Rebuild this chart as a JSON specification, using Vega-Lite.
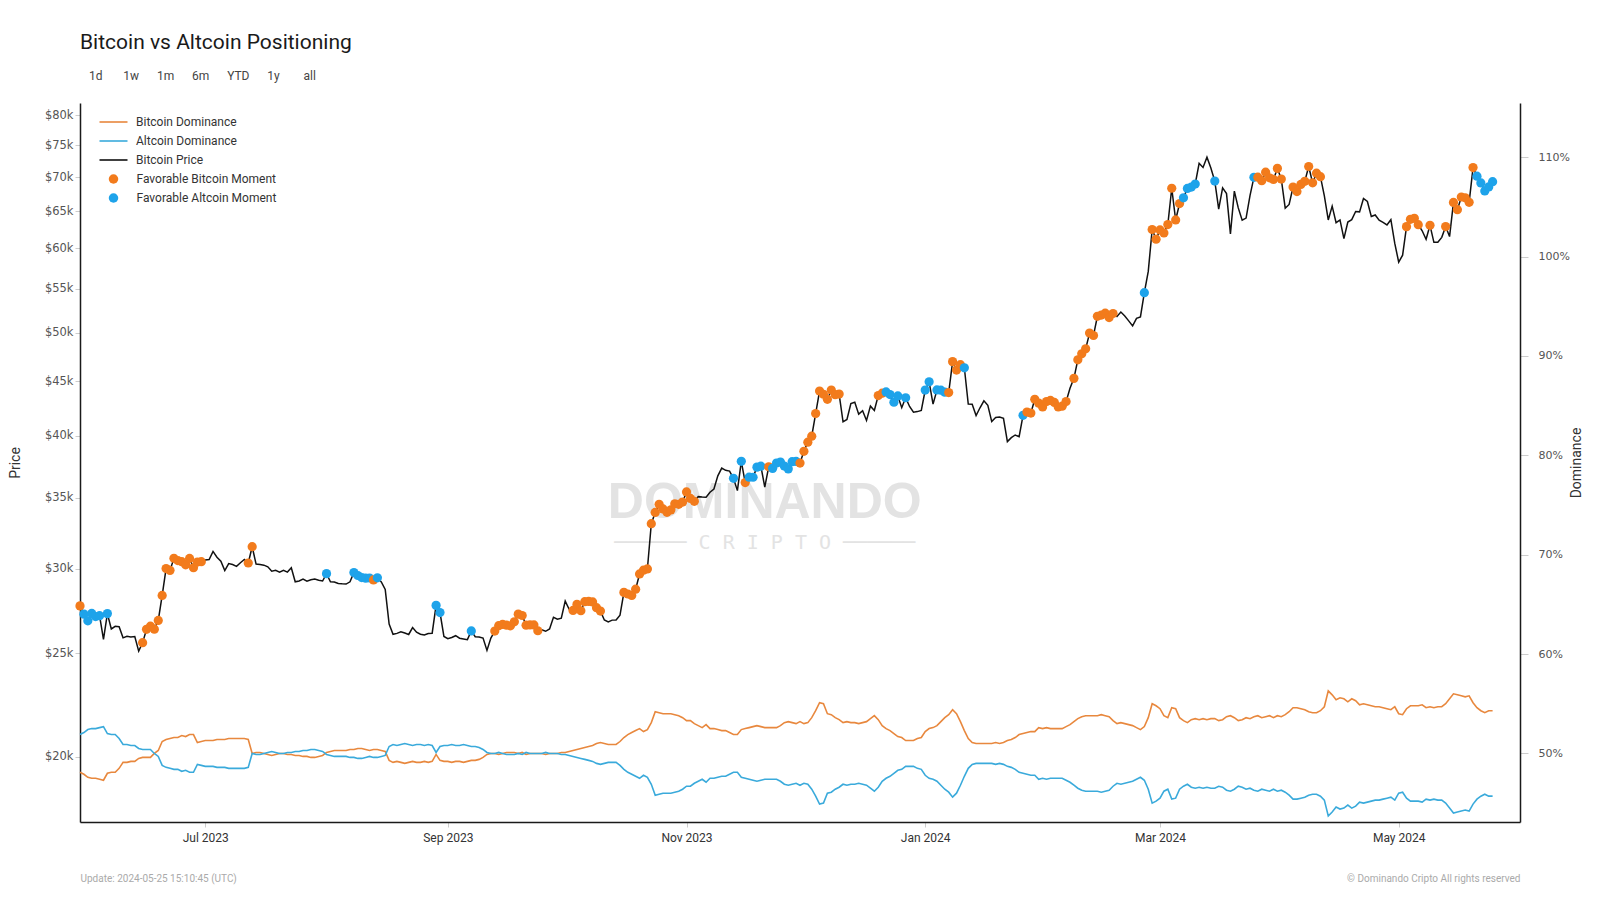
{
"$schema": "https://vega.github.io/schema/vega-lite/v6.json",
"width": 1600, "height": 900,
"autosize": {"type": "fit", "contains": "padding"},
"padding": {"left": 8, "right": 16, "top": 32, "bottom": 17},
"background": "#ffffff",
"config": {"view": {"stroke": null}, "font": "Roboto"},
"title": {"text": "Bitcoin vs Altcoin Positioning", "subtitle": "\u200b\u00a0\u00a0\u00a01d\u00a0\u00a0\u00a0\u00a0\u00a0\u00a0\u00a01w\u00a0\u00a0\u00a0\u00a0\u00a0\u00a01m\u00a0\u00a0\u00a0\u00a0\u00a0\u00a06m\u00a0\u00a0\u00a0\u00a0\u00a0\u00a0YTD\u00a0\u00a0\u00a0\u00a0\u00a0\u00a01y\u00a0\u00a0\u00a0\u00a0\u00a0\u00a0\u00a0\u00a0all", "anchor": "start", "frame": "group", "font": "Roboto", "fontSize": 21, "fontWeight": "normal", "color": "#1a1a1a", "subtitleFont": "Roboto", "subtitleFontSize": 12, "subtitleColor": "#444", "subtitlePadding": 18, "offset": 21},
"data": {"values": [
{"date":"2023-05-30","price":27700,"btc":48.1,"alt":51.9,"moment":"Favorable Bitcoin Moment"},
{"date":"2023-05-31","price":27210,"btc":47.9,"alt":52.1,"moment":"Favorable Altcoin Moment"},
{"date":"2023-06-01","price":26820,"btc":47.6,"alt":52.4,"moment":"Favorable Altcoin Moment"},
{"date":"2023-06-02","price":27250,"btc":47.5,"alt":52.5,"moment":"Favorable Altcoin Moment"},
{"date":"2023-06-03","price":27070,"btc":47.5,"alt":52.5,"moment":"Favorable Altcoin Moment"},
{"date":"2023-06-04","price":27120,"btc":47.4,"alt":52.6,"moment":"Favorable Altcoin Moment"},
{"date":"2023-06-05","price":25760,"btc":47.3,"alt":52.7},
{"date":"2023-06-06","price":27240,"btc":48.0,"alt":52.0,"moment":"Favorable Altcoin Moment"},
{"date":"2023-06-07","price":26350,"btc":48.1,"alt":51.9},
{"date":"2023-06-08","price":26500,"btc":48.1,"alt":51.9},
{"date":"2023-06-09","price":26480,"btc":48.5,"alt":51.5},
{"date":"2023-06-10","price":25850,"btc":49.1,"alt":50.9},
{"date":"2023-06-11","price":25940,"btc":49.1,"alt":50.9},
{"date":"2023-06-12","price":25900,"btc":49.2,"alt":50.8},
{"date":"2023-06-13","price":25920,"btc":49.2,"alt":50.8},
{"date":"2023-06-14","price":25120,"btc":49.5,"alt":50.5},
{"date":"2023-06-15","price":25580,"btc":49.6,"alt":50.4,"moment":"Favorable Bitcoin Moment"},
{"date":"2023-06-16","price":26330,"btc":49.6,"alt":50.4,"moment":"Favorable Bitcoin Moment"},
{"date":"2023-06-17","price":26510,"btc":49.6,"alt":50.4,"moment":"Favorable Bitcoin Moment"},
{"date":"2023-06-18","price":26340,"btc":50.0,"alt":50.0,"moment":"Favorable Bitcoin Moment"},
{"date":"2023-06-19","price":26840,"btc":50.3,"alt":49.7,"moment":"Favorable Bitcoin Moment"},
{"date":"2023-06-20","price":28330,"btc":51.2,"alt":48.8,"moment":"Favorable Bitcoin Moment"},
{"date":"2023-06-21","price":30030,"btc":51.4,"alt":48.6,"moment":"Favorable Bitcoin Moment"},
{"date":"2023-06-22","price":29910,"btc":51.5,"alt":48.5,"moment":"Favorable Bitcoin Moment"},
{"date":"2023-06-23","price":30700,"btc":51.6,"alt":48.4,"moment":"Favorable Bitcoin Moment"},
{"date":"2023-06-24","price":30550,"btc":51.6,"alt":48.4,"moment":"Favorable Bitcoin Moment"},
{"date":"2023-06-25","price":30480,"btc":51.8,"alt":48.2,"moment":"Favorable Bitcoin Moment"},
{"date":"2023-06-26","price":30270,"btc":51.7,"alt":48.3,"moment":"Favorable Bitcoin Moment"},
{"date":"2023-06-27","price":30690,"btc":51.9,"alt":48.1,"moment":"Favorable Bitcoin Moment"},
{"date":"2023-06-28","price":30080,"btc":51.9,"alt":48.1,"moment":"Favorable Bitcoin Moment"},
{"date":"2023-06-29","price":30450,"btc":51.1,"alt":48.9,"moment":"Favorable Bitcoin Moment"},
{"date":"2023-06-30","price":30480,"btc":51.2,"alt":48.8,"moment":"Favorable Bitcoin Moment"},
{"date":"2023-07-01","price":30590,"btc":51.3,"alt":48.7},
{"date":"2023-07-02","price":30620,"btc":51.3,"alt":48.7},
{"date":"2023-07-03","price":31160,"btc":51.3,"alt":48.7},
{"date":"2023-07-04","price":30770,"btc":51.4,"alt":48.6},
{"date":"2023-07-05","price":30510,"btc":51.4,"alt":48.6},
{"date":"2023-07-06","price":29900,"btc":51.4,"alt":48.6},
{"date":"2023-07-07","price":30350,"btc":51.5,"alt":48.5},
{"date":"2023-07-08","price":30290,"btc":51.5,"alt":48.5},
{"date":"2023-07-09","price":30170,"btc":51.5,"alt":48.5},
{"date":"2023-07-10","price":30410,"btc":51.5,"alt":48.5},
{"date":"2023-07-11","price":30620,"btc":51.5,"alt":48.5},
{"date":"2023-07-12","price":30390,"btc":51.4,"alt":48.6,"moment":"Favorable Bitcoin Moment"},
{"date":"2023-07-13","price":31480,"btc":50.0,"alt":50.0,"moment":"Favorable Bitcoin Moment"},
{"date":"2023-07-14","price":30320,"btc":50.1,"alt":49.9},
{"date":"2023-07-15","price":30290,"btc":50.1,"alt":49.9},
{"date":"2023-07-16","price":30250,"btc":50.0,"alt":50.0},
{"date":"2023-07-17","price":30140,"btc":49.9,"alt":50.1},
{"date":"2023-07-18","price":29860,"btc":49.8,"alt":50.2},
{"date":"2023-07-19","price":29910,"btc":49.9,"alt":50.1},
{"date":"2023-07-20","price":29800,"btc":50.0,"alt":50.0},
{"date":"2023-07-21","price":29910,"btc":50.0,"alt":50.0},
{"date":"2023-07-22","price":29800,"btc":49.9,"alt":50.1},
{"date":"2023-07-23","price":30080,"btc":49.9,"alt":50.1},
{"date":"2023-07-24","price":29180,"btc":49.8,"alt":50.2},
{"date":"2023-07-25","price":29230,"btc":49.8,"alt":50.2},
{"date":"2023-07-26","price":29350,"btc":49.7,"alt":50.3},
{"date":"2023-07-27","price":29220,"btc":49.7,"alt":50.3},
{"date":"2023-07-28","price":29310,"btc":49.6,"alt":50.4},
{"date":"2023-07-29","price":29350,"btc":49.6,"alt":50.4},
{"date":"2023-07-30","price":29280,"btc":49.7,"alt":50.3},
{"date":"2023-07-31","price":29230,"btc":49.8,"alt":50.2},
{"date":"2023-08-01","price":29700,"btc":50.1,"alt":49.9,"moment":"Favorable Altcoin Moment"},
{"date":"2023-08-02","price":29180,"btc":50.2,"alt":49.8},
{"date":"2023-08-03","price":29170,"btc":50.3,"alt":49.7},
{"date":"2023-08-04","price":29070,"btc":50.3,"alt":49.7},
{"date":"2023-08-05","price":29050,"btc":50.3,"alt":49.7},
{"date":"2023-08-06","price":29040,"btc":50.3,"alt":49.7},
{"date":"2023-08-07","price":29180,"btc":50.4,"alt":49.6},
{"date":"2023-08-08","price":29770,"btc":50.4,"alt":49.6,"moment":"Favorable Altcoin Moment"},
{"date":"2023-08-09","price":29580,"btc":50.5,"alt":49.5,"moment":"Favorable Altcoin Moment"},
{"date":"2023-08-10","price":29450,"btc":50.5,"alt":49.5,"moment":"Favorable Altcoin Moment"},
{"date":"2023-08-11","price":29410,"btc":50.4,"alt":49.6,"moment":"Favorable Altcoin Moment"},
{"date":"2023-08-12","price":29420,"btc":50.3,"alt":49.7,"moment":"Favorable Altcoin Moment"},
{"date":"2023-08-13","price":29300,"btc":50.4,"alt":49.6,"moment":"Favorable Bitcoin Moment"},
{"date":"2023-08-14","price":29430,"btc":50.4,"alt":49.6,"moment":"Favorable Altcoin Moment"},
{"date":"2023-08-15","price":29170,"btc":50.3,"alt":49.7},
{"date":"2023-08-16","price":28700,"btc":50.2,"alt":49.8},
{"date":"2023-08-17","price":26630,"btc":49.3,"alt":50.7},
{"date":"2023-08-18","price":26050,"btc":49.1,"alt":50.9},
{"date":"2023-08-19","price":26100,"btc":49.2,"alt":50.8},
{"date":"2023-08-20","price":26190,"btc":49.1,"alt":50.9},
{"date":"2023-08-21","price":26120,"btc":49.0,"alt":51.0},
{"date":"2023-08-22","price":26040,"btc":49.1,"alt":50.9},
{"date":"2023-08-23","price":26430,"btc":49.2,"alt":50.8},
{"date":"2023-08-24","price":26170,"btc":49.1,"alt":50.9},
{"date":"2023-08-25","price":26050,"btc":49.1,"alt":50.9},
{"date":"2023-08-26","price":26010,"btc":49.2,"alt":50.8},
{"date":"2023-08-27","price":26090,"btc":49.1,"alt":50.9},
{"date":"2023-08-28","price":26110,"btc":49.2,"alt":50.8},
{"date":"2023-08-29","price":27730,"btc":49.9,"alt":50.1,"moment":"Favorable Altcoin Moment"},
{"date":"2023-08-30","price":27300,"btc":49.3,"alt":50.7,"moment":"Favorable Altcoin Moment"},
{"date":"2023-08-31","price":25930,"btc":49.2,"alt":50.8},
{"date":"2023-09-01","price":25800,"btc":49.2,"alt":50.8},
{"date":"2023-09-02","price":25870,"btc":49.1,"alt":50.9},
{"date":"2023-09-03","price":25970,"btc":49.2,"alt":50.8},
{"date":"2023-09-04","price":25830,"btc":49.2,"alt":50.8},
{"date":"2023-09-05","price":25790,"btc":49.1,"alt":50.9},
{"date":"2023-09-06","price":25750,"btc":49.2,"alt":50.8},
{"date":"2023-09-07","price":26240,"btc":49.3,"alt":50.7,"moment":"Favorable Altcoin Moment"},
{"date":"2023-09-08","price":25910,"btc":49.3,"alt":50.7},
{"date":"2023-09-09","price":25900,"btc":49.4,"alt":50.6},
{"date":"2023-09-10","price":25840,"btc":49.6,"alt":50.4},
{"date":"2023-09-11","price":25160,"btc":49.9,"alt":50.1},
{"date":"2023-09-12","price":25840,"btc":50.0,"alt":50.0},
{"date":"2023-09-13","price":26230,"btc":50.0,"alt":50.0,"moment":"Favorable Bitcoin Moment"},
{"date":"2023-09-14","price":26540,"btc":49.9,"alt":50.1,"moment":"Favorable Bitcoin Moment"},
{"date":"2023-09-15","price":26610,"btc":50.0,"alt":50.0,"moment":"Favorable Bitcoin Moment"},
{"date":"2023-09-16","price":26570,"btc":50.1,"alt":49.9,"moment":"Favorable Bitcoin Moment"},
{"date":"2023-09-17","price":26530,"btc":50.1,"alt":49.9,"moment":"Favorable Bitcoin Moment"},
{"date":"2023-09-18","price":26760,"btc":50.1,"alt":49.9,"moment":"Favorable Bitcoin Moment"},
{"date":"2023-09-19","price":27210,"btc":50.0,"alt":50.0,"moment":"Favorable Bitcoin Moment"},
{"date":"2023-09-20","price":27130,"btc":50.1,"alt":49.9,"moment":"Favorable Bitcoin Moment"},
{"date":"2023-09-21","price":26570,"btc":49.9,"alt":50.1,"moment":"Favorable Bitcoin Moment"},
{"date":"2023-09-22","price":26580,"btc":50.0,"alt":50.0,"moment":"Favorable Bitcoin Moment"},
{"date":"2023-09-23","price":26580,"btc":50.0,"alt":50.0,"moment":"Favorable Bitcoin Moment"},
{"date":"2023-09-24","price":26250,"btc":50.0,"alt":50.0,"moment":"Favorable Bitcoin Moment"},
{"date":"2023-09-25","price":26300,"btc":50.0,"alt":50.0},
{"date":"2023-09-26","price":26220,"btc":49.9,"alt":50.1},
{"date":"2023-09-27","price":26350,"btc":50.0,"alt":50.0},
{"date":"2023-09-28","price":27020,"btc":50.0,"alt":50.0},
{"date":"2023-09-29","price":26910,"btc":50.0,"alt":50.0},
{"date":"2023-09-30","price":26970,"btc":50.1,"alt":49.9},
{"date":"2023-10-01","price":27990,"btc":50.1,"alt":49.9},
{"date":"2023-10-02","price":27500,"btc":50.2,"alt":49.8},
{"date":"2023-10-03","price":27430,"btc":50.3,"alt":49.7,"moment":"Favorable Bitcoin Moment"},
{"date":"2023-10-04","price":27790,"btc":50.4,"alt":49.6,"moment":"Favorable Bitcoin Moment"},
{"date":"2023-10-05","price":27410,"btc":50.5,"alt":49.5,"moment":"Favorable Bitcoin Moment"},
{"date":"2023-10-06","price":27950,"btc":50.6,"alt":49.4,"moment":"Favorable Bitcoin Moment"},
{"date":"2023-10-07","price":27970,"btc":50.7,"alt":49.3,"moment":"Favorable Bitcoin Moment"},
{"date":"2023-10-08","price":27940,"btc":50.8,"alt":49.2,"moment":"Favorable Bitcoin Moment"},
{"date":"2023-10-09","price":27590,"btc":51.0,"alt":49.0,"moment":"Favorable Bitcoin Moment"},
{"date":"2023-10-10","price":27390,"btc":51.1,"alt":48.9,"moment":"Favorable Bitcoin Moment"},
{"date":"2023-10-11","price":26870,"btc":51.0,"alt":49.0},
{"date":"2023-10-12","price":26760,"btc":50.9,"alt":49.1},
{"date":"2023-10-13","price":26860,"btc":50.9,"alt":49.1},
{"date":"2023-10-14","price":26870,"btc":50.9,"alt":49.1},
{"date":"2023-10-15","price":27150,"btc":51.2,"alt":48.8},
{"date":"2023-10-16","price":28520,"btc":51.6,"alt":48.4,"moment":"Favorable Bitcoin Moment"},
{"date":"2023-10-17","price":28420,"btc":51.9,"alt":48.1,"moment":"Favorable Bitcoin Moment"},
{"date":"2023-10-18","price":28330,"btc":52.1,"alt":47.9,"moment":"Favorable Bitcoin Moment"},
{"date":"2023-10-19","price":28720,"btc":52.3,"alt":47.7,"moment":"Favorable Bitcoin Moment"},
{"date":"2023-10-20","price":29680,"btc":52.5,"alt":47.5,"moment":"Favorable Bitcoin Moment"},
{"date":"2023-10-21","price":29920,"btc":52.2,"alt":47.8,"moment":"Favorable Bitcoin Moment"},
{"date":"2023-10-22","price":30000,"btc":52.4,"alt":47.6,"moment":"Favorable Bitcoin Moment"},
{"date":"2023-10-23","price":33090,"btc":53.1,"alt":46.9,"moment":"Favorable Bitcoin Moment"},
{"date":"2023-10-24","price":33900,"btc":54.2,"alt":45.8,"moment":"Favorable Bitcoin Moment"},
{"date":"2023-10-25","price":34500,"btc":54.1,"alt":45.9,"moment":"Favorable Bitcoin Moment"},
{"date":"2023-10-26","price":34160,"btc":54.0,"alt":46.0,"moment":"Favorable Bitcoin Moment"},
{"date":"2023-10-27","price":33910,"btc":54.0,"alt":46.0,"moment":"Favorable Bitcoin Moment"},
{"date":"2023-10-28","price":34090,"btc":54.0,"alt":46.0,"moment":"Favorable Bitcoin Moment"},
{"date":"2023-10-29","price":34540,"btc":53.9,"alt":46.1,"moment":"Favorable Bitcoin Moment"},
{"date":"2023-10-30","price":34500,"btc":53.8,"alt":46.2,"moment":"Favorable Bitcoin Moment"},
{"date":"2023-10-31","price":34670,"btc":53.6,"alt":46.4,"moment":"Favorable Bitcoin Moment"},
{"date":"2023-11-01","price":35440,"btc":53.3,"alt":46.7,"moment":"Favorable Bitcoin Moment"},
{"date":"2023-11-02","price":34940,"btc":53.3,"alt":46.7,"moment":"Favorable Bitcoin Moment"},
{"date":"2023-11-03","price":34730,"btc":53.0,"alt":47.0,"moment":"Favorable Bitcoin Moment"},
{"date":"2023-11-04","price":35080,"btc":52.8,"alt":47.2},
{"date":"2023-11-05","price":35050,"btc":52.6,"alt":47.4},
{"date":"2023-11-06","price":35040,"btc":52.9,"alt":47.1},
{"date":"2023-11-07","price":35420,"btc":52.5,"alt":47.5},
{"date":"2023-11-08","price":35660,"btc":52.5,"alt":47.5},
{"date":"2023-11-09","price":36690,"btc":52.4,"alt":47.6},
{"date":"2023-11-10","price":37310,"btc":52.3,"alt":47.7},
{"date":"2023-11-11","price":37130,"btc":52.3,"alt":47.7},
{"date":"2023-11-12","price":37070,"btc":52.1,"alt":47.9},
{"date":"2023-11-13","price":36500,"btc":51.9,"alt":48.1,"moment":"Favorable Altcoin Moment"},
{"date":"2023-11-14","price":35540,"btc":51.9,"alt":48.1},
{"date":"2023-11-15","price":37860,"btc":52.4,"alt":47.6,"moment":"Favorable Altcoin Moment"},
{"date":"2023-11-16","price":36160,"btc":52.5,"alt":47.5,"moment":"Favorable Bitcoin Moment"},
{"date":"2023-11-17","price":36590,"btc":52.6,"alt":47.4,"moment":"Favorable Altcoin Moment"},
{"date":"2023-11-18","price":36580,"btc":52.7,"alt":47.3,"moment":"Favorable Altcoin Moment"},
{"date":"2023-11-19","price":37390,"btc":52.8,"alt":47.2,"moment":"Favorable Altcoin Moment"},
{"date":"2023-11-20","price":37470,"btc":52.7,"alt":47.3,"moment":"Favorable Altcoin Moment"},
{"date":"2023-11-21","price":35810,"btc":52.6,"alt":47.4},
{"date":"2023-11-22","price":37420,"btc":52.6,"alt":47.4,"moment":"Favorable Bitcoin Moment"},
{"date":"2023-11-23","price":37290,"btc":52.6,"alt":47.4,"moment":"Favorable Altcoin Moment"},
{"date":"2023-11-24","price":37720,"btc":52.6,"alt":47.4,"moment":"Favorable Altcoin Moment"},
{"date":"2023-11-25","price":37800,"btc":52.8,"alt":47.2,"moment":"Favorable Altcoin Moment"},
{"date":"2023-11-26","price":37480,"btc":53.1,"alt":46.9,"moment":"Favorable Altcoin Moment"},
{"date":"2023-11-27","price":37250,"btc":53.2,"alt":46.8,"moment":"Favorable Altcoin Moment"},
{"date":"2023-11-28","price":37830,"btc":53.1,"alt":46.9,"moment":"Favorable Altcoin Moment"},
{"date":"2023-11-29","price":37850,"btc":53.0,"alt":47.0,"moment":"Favorable Altcoin Moment"},
{"date":"2023-11-30","price":37720,"btc":53.2,"alt":46.8,"moment":"Favorable Bitcoin Moment"},
{"date":"2023-12-01","price":38690,"btc":53.0,"alt":47.0,"moment":"Favorable Bitcoin Moment"},
{"date":"2023-12-02","price":39460,"btc":53.1,"alt":46.9,"moment":"Favorable Bitcoin Moment"},
{"date":"2023-12-03","price":39980,"btc":53.6,"alt":46.4,"moment":"Favorable Bitcoin Moment"},
{"date":"2023-12-04","price":41980,"btc":54.3,"alt":45.7,"moment":"Favorable Bitcoin Moment"},
{"date":"2023-12-05","price":44080,"btc":55.1,"alt":44.9,"moment":"Favorable Bitcoin Moment"},
{"date":"2023-12-06","price":43770,"btc":55.0,"alt":45.0,"moment":"Favorable Bitcoin Moment"},
{"date":"2023-12-07","price":43290,"btc":54.0,"alt":46.0,"moment":"Favorable Bitcoin Moment"},
{"date":"2023-12-08","price":44170,"btc":53.9,"alt":46.1,"moment":"Favorable Bitcoin Moment"},
{"date":"2023-12-09","price":43730,"btc":53.6,"alt":46.4,"moment":"Favorable Bitcoin Moment"},
{"date":"2023-12-10","price":43790,"btc":53.4,"alt":46.6,"moment":"Favorable Bitcoin Moment"},
{"date":"2023-12-11","price":41240,"btc":53.1,"alt":46.9},
{"date":"2023-12-12","price":41450,"btc":53.2,"alt":46.8},
{"date":"2023-12-13","price":42890,"btc":53.1,"alt":46.9},
{"date":"2023-12-14","price":43020,"btc":53.1,"alt":46.9},
{"date":"2023-12-15","price":41930,"btc":53.0,"alt":47.0},
{"date":"2023-12-16","price":42240,"btc":53.1,"alt":46.9},
{"date":"2023-12-17","price":41360,"btc":53.2,"alt":46.8},
{"date":"2023-12-18","price":42660,"btc":53.5,"alt":46.5},
{"date":"2023-12-19","price":42260,"btc":53.8,"alt":46.2},
{"date":"2023-12-20","price":43650,"btc":53.4,"alt":46.6,"moment":"Favorable Bitcoin Moment"},
{"date":"2023-12-21","price":43870,"btc":52.8,"alt":47.2,"moment":"Favorable Bitcoin Moment"},
{"date":"2023-12-22","price":43990,"btc":52.5,"alt":47.5,"moment":"Favorable Altcoin Moment"},
{"date":"2023-12-23","price":43740,"btc":52.3,"alt":47.7,"moment":"Favorable Altcoin Moment"},
{"date":"2023-12-24","price":43020,"btc":52.0,"alt":48.0,"moment":"Favorable Altcoin Moment"},
{"date":"2023-12-25","price":43610,"btc":51.7,"alt":48.3,"moment":"Favorable Altcoin Moment"},
{"date":"2023-12-26","price":42520,"btc":51.6,"alt":48.4},
{"date":"2023-12-27","price":43440,"btc":51.3,"alt":48.7,"moment":"Favorable Altcoin Moment"},
{"date":"2023-12-28","price":42630,"btc":51.3,"alt":48.7},
{"date":"2023-12-29","price":42100,"btc":51.3,"alt":48.7},
{"date":"2023-12-30","price":42160,"btc":51.5,"alt":48.5},
{"date":"2023-12-31","price":42270,"btc":51.6,"alt":48.4},
{"date":"2024-01-01","price":44170,"btc":52.2,"alt":47.8,"moment":"Favorable Altcoin Moment"},
{"date":"2024-01-02","price":44960,"btc":52.5,"alt":47.5,"moment":"Favorable Altcoin Moment"},
{"date":"2024-01-03","price":42850,"btc":52.6,"alt":47.4},
{"date":"2024-01-04","price":44180,"btc":52.8,"alt":47.2,"moment":"Favorable Altcoin Moment"},
{"date":"2024-01-05","price":44160,"btc":53.2,"alt":46.8,"moment":"Favorable Altcoin Moment"},
{"date":"2024-01-06","price":43970,"btc":53.6,"alt":46.4,"moment":"Favorable Altcoin Moment"},
{"date":"2024-01-07","price":43930,"btc":53.9,"alt":46.1,"moment":"Favorable Bitcoin Moment"},
{"date":"2024-01-08","price":46970,"btc":54.4,"alt":45.6,"moment":"Favorable Bitcoin Moment"},
{"date":"2024-01-09","price":46120,"btc":54.0,"alt":46.0,"moment":"Favorable Bitcoin Moment"},
{"date":"2024-01-10","price":46660,"btc":53.2,"alt":46.8,"moment":"Favorable Bitcoin Moment"},
{"date":"2024-01-11","price":46350,"btc":52.3,"alt":47.7,"moment":"Favorable Altcoin Moment"},
{"date":"2024-01-12","price":42850,"btc":51.5,"alt":48.5},
{"date":"2024-01-13","price":42840,"btc":51.1,"alt":48.9},
{"date":"2024-01-14","price":41800,"btc":51.0,"alt":49.0},
{"date":"2024-01-15","price":42510,"btc":51.0,"alt":49.0},
{"date":"2024-01-16","price":43150,"btc":51.0,"alt":49.0},
{"date":"2024-01-17","price":42740,"btc":51.0,"alt":49.0},
{"date":"2024-01-18","price":41260,"btc":51.0,"alt":49.0},
{"date":"2024-01-19","price":41620,"btc":51.1,"alt":48.9},
{"date":"2024-01-20","price":41670,"btc":51.0,"alt":49.0},
{"date":"2024-01-21","price":41550,"btc":51.1,"alt":48.9},
{"date":"2024-01-22","price":39510,"btc":51.3,"alt":48.7},
{"date":"2024-01-23","price":39850,"btc":51.4,"alt":48.6},
{"date":"2024-01-24","price":40080,"btc":51.6,"alt":48.4},
{"date":"2024-01-25","price":39930,"btc":51.9,"alt":48.1},
{"date":"2024-01-26","price":41820,"btc":52.0,"alt":48.0,"moment":"Favorable Altcoin Moment"},
{"date":"2024-01-27","price":42120,"btc":52.1,"alt":47.9,"moment":"Favorable Bitcoin Moment"},
{"date":"2024-01-28","price":42030,"btc":52.2,"alt":47.8,"moment":"Favorable Bitcoin Moment"},
{"date":"2024-01-29","price":43300,"btc":52.2,"alt":47.8,"moment":"Favorable Bitcoin Moment"},
{"date":"2024-01-30","price":42940,"btc":52.6,"alt":47.4,"moment":"Favorable Bitcoin Moment"},
{"date":"2024-01-31","price":42580,"btc":52.5,"alt":47.5,"moment":"Favorable Bitcoin Moment"},
{"date":"2024-02-01","price":43080,"btc":52.6,"alt":47.4,"moment":"Favorable Bitcoin Moment"},
{"date":"2024-02-02","price":43190,"btc":52.5,"alt":47.5,"moment":"Favorable Bitcoin Moment"},
{"date":"2024-02-03","price":43000,"btc":52.5,"alt":47.5,"moment":"Favorable Bitcoin Moment"},
{"date":"2024-02-04","price":42580,"btc":52.5,"alt":47.5,"moment":"Favorable Bitcoin Moment"},
{"date":"2024-02-05","price":42660,"btc":52.5,"alt":47.5,"moment":"Favorable Bitcoin Moment"},
{"date":"2024-02-06","price":43080,"btc":52.7,"alt":47.3,"moment":"Favorable Bitcoin Moment"},
{"date":"2024-02-07","price":44340,"btc":52.9,"alt":47.1},
{"date":"2024-02-08","price":45300,"btc":53.2,"alt":46.8,"moment":"Favorable Bitcoin Moment"},
{"date":"2024-02-09","price":47150,"btc":53.5,"alt":46.5,"moment":"Favorable Bitcoin Moment"},
{"date":"2024-02-10","price":47770,"btc":53.7,"alt":46.3,"moment":"Favorable Bitcoin Moment"},
{"date":"2024-02-11","price":48290,"btc":53.8,"alt":46.2,"moment":"Favorable Bitcoin Moment"},
{"date":"2024-02-12","price":49960,"btc":53.8,"alt":46.2,"moment":"Favorable Bitcoin Moment"},
{"date":"2024-02-13","price":49700,"btc":53.8,"alt":46.2,"moment":"Favorable Bitcoin Moment"},
{"date":"2024-02-14","price":51800,"btc":53.8,"alt":46.2,"moment":"Favorable Bitcoin Moment"},
{"date":"2024-02-15","price":51940,"btc":53.9,"alt":46.1,"moment":"Favorable Bitcoin Moment"},
{"date":"2024-02-16","price":52160,"btc":53.8,"alt":46.2,"moment":"Favorable Bitcoin Moment"},
{"date":"2024-02-17","price":51660,"btc":53.7,"alt":46.3,"moment":"Favorable Bitcoin Moment"},
{"date":"2024-02-18","price":52120,"btc":53.3,"alt":46.7,"moment":"Favorable Bitcoin Moment"},
{"date":"2024-02-19","price":51780,"btc":53.0,"alt":47.0},
{"date":"2024-02-20","price":52280,"btc":53.1,"alt":46.9},
{"date":"2024-02-21","price":51840,"btc":53.0,"alt":47.0},
{"date":"2024-02-22","price":51300,"btc":52.9,"alt":47.1},
{"date":"2024-02-23","price":50740,"btc":52.8,"alt":47.2},
{"date":"2024-02-24","price":51570,"btc":52.6,"alt":47.4},
{"date":"2024-02-25","price":51730,"btc":52.4,"alt":47.6},
{"date":"2024-02-26","price":54520,"btc":52.7,"alt":47.3,"moment":"Favorable Altcoin Moment"},
{"date":"2024-02-27","price":57090,"btc":53.6,"alt":46.4},
{"date":"2024-02-28","price":62500,"btc":55.0,"alt":45.0,"moment":"Favorable Bitcoin Moment"},
{"date":"2024-02-29","price":61200,"btc":54.8,"alt":45.2,"moment":"Favorable Bitcoin Moment"},
{"date":"2024-03-01","price":62440,"btc":54.5,"alt":45.5,"moment":"Favorable Bitcoin Moment"},
{"date":"2024-03-02","price":62030,"btc":53.8,"alt":46.2,"moment":"Favorable Bitcoin Moment"},
{"date":"2024-03-03","price":63170,"btc":53.6,"alt":46.4,"moment":"Favorable Bitcoin Moment"},
{"date":"2024-03-04","price":68330,"btc":54.6,"alt":45.4,"moment":"Favorable Bitcoin Moment"},
{"date":"2024-03-05","price":63800,"btc":54.5,"alt":45.5,"moment":"Favorable Bitcoin Moment"},
{"date":"2024-03-06","price":66110,"btc":53.6,"alt":46.4,"moment":"Favorable Bitcoin Moment"},
{"date":"2024-03-07","price":66930,"btc":53.3,"alt":46.7,"moment":"Favorable Altcoin Moment"},
{"date":"2024-03-08","price":68300,"btc":53.1,"alt":46.9,"moment":"Favorable Altcoin Moment"},
{"date":"2024-03-09","price":68500,"btc":53.4,"alt":46.6,"moment":"Favorable Altcoin Moment"},
{"date":"2024-03-10","price":68960,"btc":53.5,"alt":46.5,"moment":"Favorable Altcoin Moment"},
{"date":"2024-03-11","price":72120,"btc":53.4,"alt":46.6},
{"date":"2024-03-12","price":71480,"btc":53.5,"alt":46.5},
{"date":"2024-03-13","price":73080,"btc":53.4,"alt":46.6},
{"date":"2024-03-14","price":71400,"btc":53.5,"alt":46.5},
{"date":"2024-03-15","price":69400,"btc":53.5,"alt":46.5,"moment":"Favorable Altcoin Moment"},
{"date":"2024-03-16","price":65320,"btc":53.3,"alt":46.7},
{"date":"2024-03-17","price":68390,"btc":53.4,"alt":46.6},
{"date":"2024-03-18","price":67550,"btc":53.7,"alt":46.3},
{"date":"2024-03-19","price":61910,"btc":53.8,"alt":46.2},
{"date":"2024-03-20","price":67910,"btc":53.6,"alt":46.4},
{"date":"2024-03-21","price":65490,"btc":53.3,"alt":46.7},
{"date":"2024-03-22","price":63780,"btc":53.4,"alt":46.6},
{"date":"2024-03-23","price":64060,"btc":53.6,"alt":46.4},
{"date":"2024-03-24","price":67240,"btc":53.5,"alt":46.5},
{"date":"2024-03-25","price":69960,"btc":53.7,"alt":46.3,"moment":"Favorable Altcoin Moment"},
{"date":"2024-03-26","price":69990,"btc":53.8,"alt":46.2,"moment":"Favorable Bitcoin Moment"},
{"date":"2024-03-27","price":69460,"btc":53.6,"alt":46.4,"moment":"Favorable Bitcoin Moment"},
{"date":"2024-03-28","price":70740,"btc":53.7,"alt":46.3,"moment":"Favorable Bitcoin Moment"},
{"date":"2024-03-29","price":69890,"btc":53.8,"alt":46.2,"moment":"Favorable Bitcoin Moment"},
{"date":"2024-03-30","price":69650,"btc":53.6,"alt":46.4,"moment":"Favorable Bitcoin Moment"},
{"date":"2024-03-31","price":71330,"btc":53.8,"alt":46.2,"moment":"Favorable Bitcoin Moment"},
{"date":"2024-04-01","price":69700,"btc":53.7,"alt":46.3,"moment":"Favorable Bitcoin Moment"},
{"date":"2024-04-02","price":65450,"btc":53.9,"alt":46.1},
{"date":"2024-04-03","price":65980,"btc":54.2,"alt":45.8},
{"date":"2024-04-04","price":68510,"btc":54.6,"alt":45.4,"moment":"Favorable Bitcoin Moment"},
{"date":"2024-04-05","price":67840,"btc":54.6,"alt":45.4,"moment":"Favorable Bitcoin Moment"},
{"date":"2024-04-06","price":68900,"btc":54.5,"alt":45.5,"moment":"Favorable Bitcoin Moment"},
{"date":"2024-04-07","price":69360,"btc":54.4,"alt":45.6,"moment":"Favorable Bitcoin Moment"},
{"date":"2024-04-08","price":71620,"btc":54.2,"alt":45.8,"moment":"Favorable Bitcoin Moment"},
{"date":"2024-04-09","price":69140,"btc":54.1,"alt":45.9,"moment":"Favorable Bitcoin Moment"},
{"date":"2024-04-10","price":70590,"btc":54.1,"alt":45.9,"moment":"Favorable Bitcoin Moment"},
{"date":"2024-04-11","price":70060,"btc":54.3,"alt":45.7,"moment":"Favorable Bitcoin Moment"},
{"date":"2024-04-12","price":67200,"btc":54.7,"alt":45.3},
{"date":"2024-04-13","price":63800,"btc":56.3,"alt":43.7},
{"date":"2024-04-14","price":65740,"btc":55.9,"alt":44.1},
{"date":"2024-04-15","price":63430,"btc":55.4,"alt":44.6},
{"date":"2024-04-16","price":63810,"btc":55.6,"alt":44.4},
{"date":"2024-04-17","price":61280,"btc":55.5,"alt":44.5},
{"date":"2024-04-18","price":63510,"btc":55.2,"alt":44.8},
{"date":"2024-04-19","price":63840,"btc":55.5,"alt":44.5},
{"date":"2024-04-20","price":64990,"btc":55.3,"alt":44.7},
{"date":"2024-04-21","price":64930,"btc":54.9,"alt":45.1},
{"date":"2024-04-22","price":66840,"btc":55.0,"alt":45.0},
{"date":"2024-04-23","price":66410,"btc":54.9,"alt":45.1},
{"date":"2024-04-24","price":64290,"btc":54.8,"alt":45.2},
{"date":"2024-04-25","price":64500,"btc":54.7,"alt":45.3},
{"date":"2024-04-26","price":63770,"btc":54.7,"alt":45.3},
{"date":"2024-04-27","price":63460,"btc":54.6,"alt":45.4},
{"date":"2024-04-28","price":63120,"btc":54.5,"alt":45.5},
{"date":"2024-04-29","price":63840,"btc":54.4,"alt":45.6},
{"date":"2024-04-30","price":60640,"btc":54.7,"alt":45.3},
{"date":"2024-05-01","price":58250,"btc":54.0,"alt":46.0},
{"date":"2024-05-02","price":59120,"btc":53.9,"alt":46.1},
{"date":"2024-05-03","price":62890,"btc":54.5,"alt":45.5,"moment":"Favorable Bitcoin Moment"},
{"date":"2024-05-04","price":63890,"btc":54.8,"alt":45.2,"moment":"Favorable Bitcoin Moment"},
{"date":"2024-05-05","price":64030,"btc":54.8,"alt":45.2,"moment":"Favorable Bitcoin Moment"},
{"date":"2024-05-06","price":63160,"btc":54.8,"alt":45.2,"moment":"Favorable Bitcoin Moment"},
{"date":"2024-05-07","price":62330,"btc":54.9,"alt":45.1},
{"date":"2024-05-08","price":61190,"btc":54.6,"alt":45.4},
{"date":"2024-05-09","price":63070,"btc":54.7,"alt":45.3,"moment":"Favorable Bitcoin Moment"},
{"date":"2024-05-10","price":60790,"btc":54.6,"alt":45.4},
{"date":"2024-05-11","price":60790,"btc":54.7,"alt":45.3},
{"date":"2024-05-12","price":61450,"btc":54.7,"alt":45.3},
{"date":"2024-05-13","price":62900,"btc":55.0,"alt":45.0,"moment":"Favorable Bitcoin Moment"},
{"date":"2024-05-14","price":61550,"btc":55.5,"alt":44.5},
{"date":"2024-05-15","price":66270,"btc":56.0,"alt":44.0,"moment":"Favorable Bitcoin Moment"},
{"date":"2024-05-16","price":65230,"btc":55.9,"alt":44.1,"moment":"Favorable Bitcoin Moment"},
{"date":"2024-05-17","price":67050,"btc":55.8,"alt":44.2,"moment":"Favorable Bitcoin Moment"},
{"date":"2024-05-18","price":66940,"btc":55.7,"alt":44.3,"moment":"Favorable Bitcoin Moment"},
{"date":"2024-05-19","price":66280,"btc":55.8,"alt":44.2,"moment":"Favorable Bitcoin Moment"},
{"date":"2024-05-20","price":71450,"btc":55.1,"alt":44.9,"moment":"Favorable Bitcoin Moment"},
{"date":"2024-05-21","price":70140,"btc":54.6,"alt":45.4,"moment":"Favorable Altcoin Moment"},
{"date":"2024-05-22","price":69120,"btc":54.3,"alt":45.7,"moment":"Favorable Altcoin Moment"},
{"date":"2024-05-23","price":67930,"btc":54.1,"alt":45.9,"moment":"Favorable Altcoin Moment"},
{"date":"2024-05-24","price":68530,"btc":54.3,"alt":45.7,"moment":"Favorable Altcoin Moment"},
{"date":"2024-05-25","price":69300,"btc":54.3,"alt":45.7,"moment":"Favorable Altcoin Moment"}
]},
"layer": [
 {"layer": [
  {"mark": {"type": "line", "strokeWidth": 1.6},
   "encoding": {
    "x": {"field": "date", "type": "temporal",
      "scale": {"type": "utc", "domain": [1685404800000, 1717200000000]},
      "axis": {"orient": "bottom", "values": [1688169600000, 1693526400000, 1698796800000, 1704067200000, 1709251200000, 1714521600000],
        "format": "%b %Y", "grid": false, "domainColor": "#1a1a1a", "domainWidth": 1.5, "tickColor": "#cccccc", "tickSize": 5, "labelFont": "Roboto", "labelFontSize": 12, "labelColor": "#333", "labelPadding": 5,
        "title": "Update: 2024-05-25 15:10:45 (UTC)", "titleFont": "Roboto", "titleFontSize": 10, "titleFontWeight": "normal", "titleColor": "#aaaaaa", "titleAnchor": "start", "titleAlign": "left", "titlePadding": 30}},
    "y": {"field": "btc", "type": "quantitative",
      "scale": {"domain": [43.1, 115.46], "nice": false, "zero": false},
      "axis": {"orient": "right", "values": [50, 60, 70, 80, 90, 100, 110], "labelExpr": "datum.value + '%'", "grid": false, "domainColor": "#1a1a1a", "domainWidth": 1.5, "tickColor": "#cccccc", "tickSize": 8, "labelPadding": 10, "labelFont": "DejaVu Sans", "labelFontSize": 11, "labelColor": "#555",
        "title": "Dominance", "titleFont": "Roboto", "titleFontSize": 14, "titleFontWeight": "normal", "titleColor": "#333", "titleAngle": 270, "titlePadding": 14}},
    "color": {"datum": "Bitcoin Dominance", "type": "nominal",
      "scale": {"domain": ["Bitcoin Dominance", "Altcoin Dominance", "Bitcoin Price"], "range": ["#E8883E", "#3AAADB", "#111111"]},
      "legend": {"orient": "none", "legendX": 27.5, "legendY": 13, "title": null, "symbolType": "M-2.8,0H2.8", "symbolSize": 100, "symbolStrokeWidth": 1.6, "labelFont": "Roboto", "labelFontSize": 12, "labelColor": "#333", "labelOffset": 16.5, "rowPadding": 7}}
   }},
  {"mark": {"type": "line", "strokeWidth": 1.6},
   "encoding": {
    "x": {"field": "date", "type": "temporal"},
    "y": {"field": "alt", "type": "quantitative"},
    "color": {"datum": "Altcoin Dominance", "type": "nominal"}
   }}
 ]},
 {"layer": [
  {"data": {"values": [{"label": "DOMINANDO"}]},
   "mark": {"type": "text", "font": "Liberation Sans", "fontWeight": "bold", "fontSize": 50, "color": "#e3e3e3", "align": "center", "baseline": "middle"},
   "encoding": {"text": {"field": "label"}, "x": {"datum": 1700524800000, "type": "temporal"}, "y": {"datum": 34600, "type": "quantitative"}}},
  {"data": {"values": [{"label": "────── C R I P T O ──────"}]},
   "mark": {"type": "text", "font": "DejaVu Sans Mono", "fontSize": 20, "color": "#e3e3e3", "align": "center", "baseline": "middle"},
   "encoding": {"text": {"field": "label"}, "x": {"datum": 1700524800000, "type": "temporal"}, "y": {"datum": 31760, "type": "quantitative"}}},
  {"mark": {"type": "line", "strokeWidth": 1.5},
   "encoding": {
    "x": {"field": "date", "type": "temporal",
      "axis": {"orient": "bottom", "labels": false, "ticks": false, "domain": false, "grid": false,
        "title": "© Dominando Cripto All rights reserved", "titleFont": "Roboto", "titleFontSize": 10, "titleFontWeight": "normal", "titleColor": "#aaaaaa", "titleAnchor": "end", "titleAlign": "right", "titlePadding": 51}},
    "y": {"field": "price", "type": "quantitative",
      "scale": {"type": "log", "domain": [17360, 82160], "nice": false},
      "axis": {"orient": "left", "values": [20000, 25000, 30000, 35000, 40000, 45000, 50000, 55000, 60000, 65000, 70000, 75000, 80000], "labelExpr": "'$' + (datum.value / 1000) + 'k'", "grid": false, "domainColor": "#1a1a1a", "domainWidth": 1.5, "tickColor": "#cccccc", "tickSize": 5, "labelPadding": 2, "labelFont": "DejaVu Sans", "labelFontSize": 11.5, "labelColor": "#555",
        "title": "Price", "titleFont": "Roboto", "titleFontSize": 14, "titleFontWeight": "normal", "titleColor": "#333", "titlePadding": 22}},
    "color": {"datum": "Bitcoin Price", "type": "nominal"}
   }},
  {"transform": [{"filter": "isValid(datum.moment)"}],
   "mark": {"type": "point", "filled": true, "size": 85, "opacity": 1, "strokeWidth": 0},
   "encoding": {
    "x": {"field": "date", "type": "temporal"},
    "y": {"field": "price", "type": "quantitative"},
    "fill": {"field": "moment", "type": "nominal",
      "scale": {"domain": ["Favorable Bitcoin Moment", "Favorable Altcoin Moment"], "range": ["#F27B1C", "#1EA3EA"]},
      "legend": {"orient": "none", "legendX": 27.5, "legendY": 70, "title": null, "symbolType": "circle", "symbolSize": 90, "labelFont": "Roboto", "labelFontSize": 12, "labelColor": "#333", "labelOffset": 17, "rowPadding": 7}}
   }}
 ]}
],
"resolve": {"scale": {"y": "independent"}, "axis": {"x": "independent"}}
}
